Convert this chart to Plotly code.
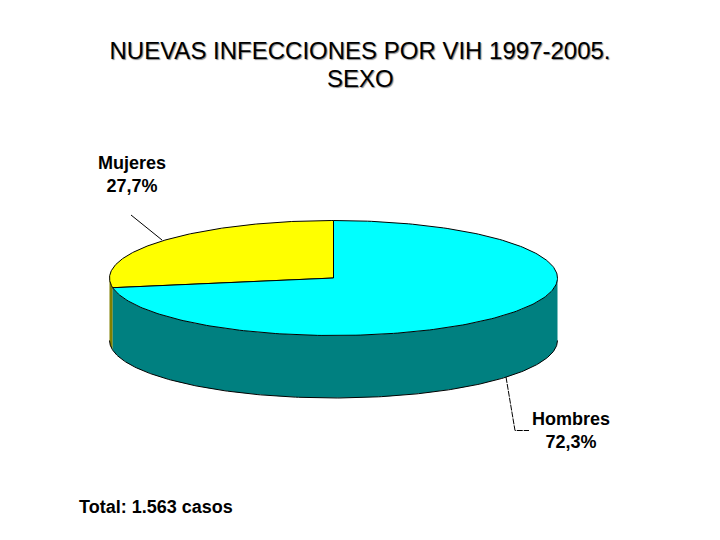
# plot.py - tarta 3D de nuevas infecciones por sexo
import numpy as np
import plotly.graph_objects as go

categorias = ["Mujeres", "Hombres"]
porcentajes = [27.7, 72.3]
colores_tapa = ["#FFFF00", "#00FFFF"]
colores_lado = ["#808000", "#008080"]
total_casos = "1.563"
titulo = "NUEVAS INFECCIONES POR VIH 1997-2005."
subtitulo = "SEXO"

# geometria de la tarta en pixeles de la ventana
cx, cy = 333.5, 278
rx, ry = 224, 57.5
alto = 62.5
inicio = 90
margen_body = 8  # el body de la pagina deja 8px


def arco(a0, a1, dy=0):
    t = np.radians(np.linspace(a0, a1, 240))
    return cx + rx * np.cos(t), cy + dy - ry * np.sin(t)


fig = go.Figure()


def poligono(x, y, color, borde=True):
    linea = dict(color="#000000", width=1) if borde else dict(width=0)
    fig.add_trace(go.Scatter(x=x, y=y, mode="lines", fill="toself", fillcolor=color,
                             line=linea, hoverinfo="skip"))


# angulos de cada porcion (sentido antihorario desde arriba)
limites = inicio + np.cumsum([0] + porcentajes) * 3.6

# paredes: solo se ve la mitad delantera (180-360)
for i in range(len(categorias)):
    a0 = max(limites[i], 180)
    a1 = min(limites[i + 1], 360)
    if a1 > a0:
        xs, ys = arco(a0, a1)
        xi, yi = arco(a0, a1, alto)
        poligono(np.r_[xs, xi[::-1], xs[0]], np.r_[ys, yi[::-1], ys[0]], colores_lado[i], borde=False)
        fig.add_trace(go.Scatter(x=xi, y=yi, mode="lines",
                                 line=dict(color="#000000", width=1), hoverinfo="skip"))

# tapas
for i in range(len(categorias)):
    xs, ys = arco(limites[i], limites[i + 1])
    poligono(np.r_[cx, xs, cx], np.r_[cy, ys, cy], colores_tapa[i])

# lineas guia
fig.add_trace(go.Scatter(x=[131, 162], y=[215, 240], mode="lines",
                         line=dict(color="#000000", width=1), hoverinfo="skip"))
fig.add_trace(go.Scatter(x=[506, 515, 529], y=[377, 430.5, 430.5], mode="lines",
                         line=dict(color="#000000", width=1, dash="6px,1px"), hoverinfo="skip"))

fuente = dict(family="Liberation Sans", size=18, color="#000000")
etiquetas_pos = [(131.5, 174), (570.5, 430)]
for cat, val, (x, y) in zip(categorias, porcentajes, etiquetas_pos):
    texto = f"<b>{cat}<br>{val:.1f}%</b>".replace(".", ",")
    fig.add_annotation(x=x, y=y, text=texto, showarrow=False, font=fuente,
                       xanchor="center", yanchor="middle", align="center")
fig.add_annotation(x=77, y=507, text=f"<b>Total: {total_casos} casos</b>", showarrow=False,
                   font=fuente, xanchor="left", yanchor="middle")

fuente_titulo = dict(family="Liberation Sans", size=24, color="#000000",
                     shadow="1px 1px 1px #888888")
fig.add_annotation(x=360, y=78, text=subtitulo, showarrow=False, font=fuente_titulo,
                   xanchor="center", yanchor="middle")

fig.update_layout(
    width=720 - margen_body, height=540 - margen_body,
    margin=dict(l=0, r=0, t=0, b=0),
    paper_bgcolor="#FFFFFF", plot_bgcolor="#FFFFFF",
    showlegend=False,
    title=dict(text=titulo, x=(360 - margen_body) / (720 - margen_body), xanchor="center",
               y=(540 - 51) / (540 - margen_body), yanchor="middle",
               font=fuente_titulo),
    xaxis=dict(range=[margen_body, 720], visible=False, fixedrange=True),
    yaxis=dict(range=[540, margen_body], visible=False, fixedrange=True),
)

fig.write_html("out.html")
